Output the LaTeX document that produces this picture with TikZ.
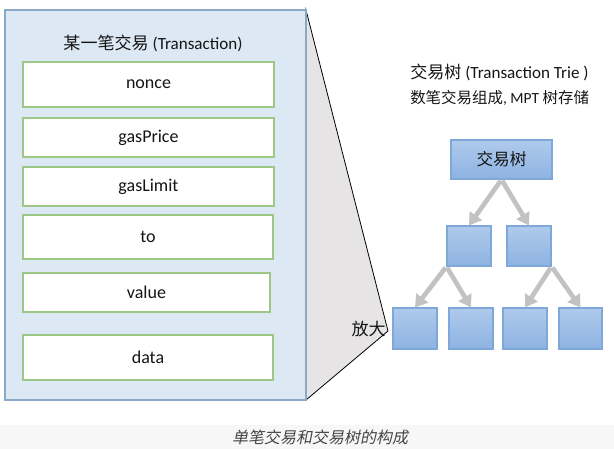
\documentclass[tikz,border=0pt]{standalone}
\usepackage{fontspec}
\setmainfont{Carlito}
\newfontfamily\cjk{Noto Sans CJK SC}
\newfontfamily\cjkit[FakeSlant=0.2]{Noto Sans CJK SC}
\usetikzlibrary{arrows.meta}
\definecolor{panelfill}{HTML}{DDE8F5}
\definecolor{panelline}{HTML}{8AA9C9}
\definecolor{fieldline}{HTML}{9DC785}
\definecolor{zoomfill}{HTML}{E6E4E4}
\definecolor{treetop}{HTML}{AFCAEB}
\definecolor{treebot}{HTML}{8DB3E2}
\definecolor{treeline}{HTML}{7EA8DA}
\definecolor{arrowgray}{HTML}{C2C2C2}
\definecolor{txt}{HTML}{151515}
\definecolor{capband}{HTML}{F7F7F7}
\definecolor{captxt}{HTML}{444444}
\tikzset{
  panelbox/.style={draw=panelline, fill=panelfill, line width=0.8pt, inner sep=0pt},
  fieldbox/.style={draw=fieldline, fill=white, line width=0.9pt, inner sep=0pt, text=txt, font=\fontsize{13.5}{15}\selectfont},
  treebox/.style={draw=treeline, top color=treetop, bottom color=treebot, line width=0.8pt, inner sep=0pt, text=txt, font=\fontsize{12.5}{14}\selectfont},
  treearrow/.style={draw=arrowgray, line width=3.5pt, -{Triangle[length=9pt,width=11pt]}, shorten <=1pt},
  label/.style={inner sep=0pt, text=txt, font=\fontsize{12.8}{14}\selectfont},
}
\begin{document}
\begin{tikzpicture}[x=0.75pt,y=-0.75pt]
\useasboundingbox (0,0) rectangle (614,449);
% caption band
\fill[capband] (0,425) rectangle (614,449);
\node[inner sep=0pt, text=captxt, font=\fontsize{12}{14}\selectfont] (caption) at (320,437) {\cjkit 单笔交易和交易树的构成};
% zoom wedge
\coordinate (wtop) at (306,10);
\coordinate (wtip) at (388,331);
\coordinate (wbot) at (306,400);
\draw[fill=zoomfill, line width=0.6pt] (wtop) -- (wtip) -- (wbot) -- cycle;
% panel
\node[panelbox, minimum width=225.75pt, minimum height=292.5pt] (panel) at (155.5,205) {};
\node[label] (title) at (153,43) {{\cjk 某一笔交易} (Transaction)};
\node[fieldbox, minimum width=188.25pt, minimum height=33.75pt] (nonce) at (148.5,84.5) {nonce};
\node[fieldbox, minimum width=188.25pt, minimum height=29.25pt] (gasprice) at (148.5,137.5) {gasPrice};
\node[fieldbox, minimum width=188.25pt, minimum height=29.25pt] (gaslimit) at (148.5,186.5) {gasLimit};
\node[fieldbox, minimum width=187.5pt, minimum height=33pt] (to) at (148,237) {to};
\node[fieldbox, minimum width=185.25pt, minimum height=29.25pt] (value) at (146.5,292.5) {value};
\node[fieldbox, minimum width=187.5pt, minimum height=33.75pt] (data) at (148,357.5) {data};
\node[label, anchor=east] (zoomlabel) at (386,329) {\cjk 放大};
% right side texts
\node[label, anchor=west] (trietitle) at (410,72) {{\cjk 交易树} (Transaction Trie )};
\node[label, anchor=west, font=\fontsize{11.6}{14}\selectfont] (triesub) at (410,98) {{\cjk 数笔交易组成}, MPT {\cjk 树存储}};
% tree
\node[treebox, minimum width=75.75pt, minimum height=29.25pt] (root) at (501.5,159.5) {\cjk 交易树};
\node[treebox, minimum width=33pt, minimum height=30pt] (la) at (469,246) {};
\node[treebox, minimum width=33pt, minimum height=30pt] (lb) at (529,246) {};
\node[treebox, minimum width=33pt, minimum height=30.75pt] (ma) at (415,328.5) {};
\node[treebox, minimum width=33pt, minimum height=30.75pt] (mb) at (471,328.5) {};
\node[treebox, minimum width=33pt, minimum height=30.75pt] (mc) at (525,328.5) {};
\node[treebox, minimum width=32.25pt, minimum height=30.75pt] (md) at (580.5,328.5) {};
\draw[treearrow] (root.south) -- (la.north);
\draw[treearrow] (root.south) -- (lb.north);
\draw[treearrow] (la.south west) -- (ma.north);
\draw[treearrow] (la.south west) -- (mb.north);
\draw[treearrow] (lb.south east) -- (mc.north);
\draw[treearrow] (lb.south east) -- (md.north);
\end{tikzpicture}
\end{document}
